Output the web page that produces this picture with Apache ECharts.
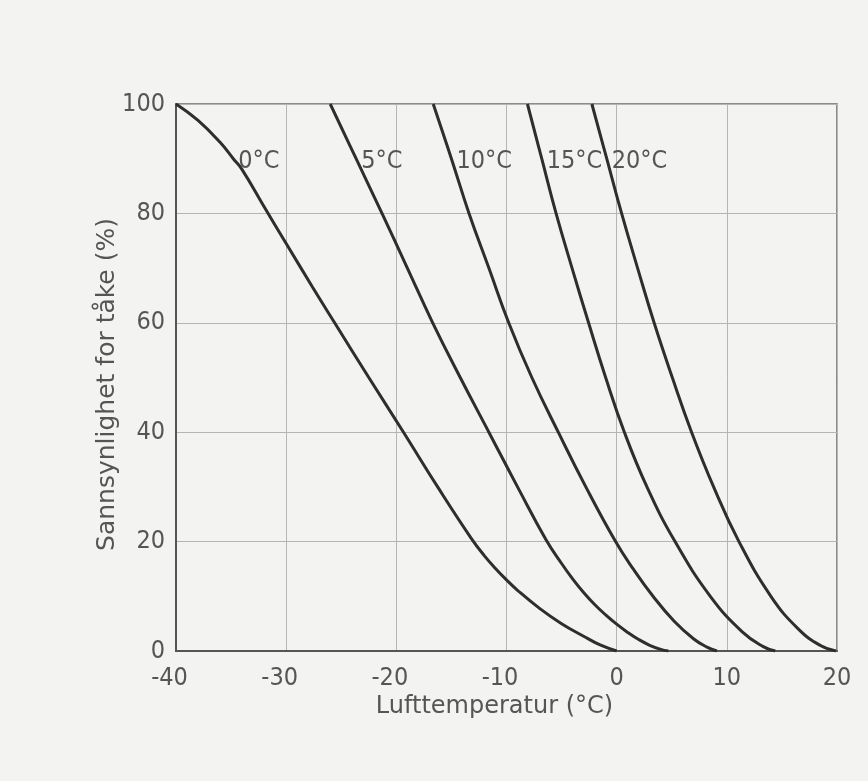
<!DOCTYPE html>
<html>
<head>
<meta charset="utf-8">
<script src="https://cdn.jsdelivr.net/npm/echarts@6/dist/echarts.min.js"></script>
<style>
html,body{margin:0;padding:0;background:#f3f3f1;}
#chart{width:868px;height:781px;}
</style>
</head>
<body>
<div id="chart"></div>
<script>
// Fog probability curves: [air temperature °C, probability %], one per water temperature
const seriesNames = ['0°C', '5°C', '10°C', '15°C', '20°C'];
const curve0 = [[-40,100],[-38,97],[-36,93],[-34.8,90],[-34,88],[-32,81.2],[-30,74.5],[-27.6,66.5],[-25.6,60],[-22.5,50],[-19.35,40],[-16.25,30],[-13.2,20.6],[-12,17.4],[-11,15.1],[-10,13],[-9,11.1],[-7,7.8],[-5,5],[-3,2.7],[-1.5,1.1],[0,0]];
const curve5 = [[-26,100],[-23.65,90],[-21.3,80],[-19,70],[-16.7,60],[-14.2,50],[-11.6,40],[-9,30],[-6.4,20.3],[-5,16],[-4,13.2],[-3,10.7],[-2,8.5],[-1,6.6],[0,4.9],[1,3.4],[2,2.1],[3,1.05],[4,0.3],[4.7,0]];
const curve10 = [[-16.65,100],[-15,90],[-13.4,80],[-11.6,70],[-9.8,60],[-7.7,50],[-5.3,40],[-2.8,30],[-0.1,20],[1.5,15],[3.3,10],[5.2,5.5],[7,2.2],[8.2,0.7],[9.1,0]];
const curve15 = [[-8.1,100],[-6.8,90],[-5.5,80],[-4.05,70],[-2.55,60],[-1,50],[0.7,40],[2.75,30],[5.3,20],[8.5,10],[11.4,3.5],[13.3,0.8],[14.4,0]];
const curve20 = [[-2.25,100],[-0.9,90],[0.45,80],[1.9,70],[3.4,60],[5.05,50],[6.8,40],[8.8,30],[11.1,20],[14,10],[16.5,4],[18.5,1],[19.9,0]];
const curves = [curve0, curve5, curve10, curve15, curve20];
const labelLevel = 90; // each curve is labelled where it crosses this value

const xTicks = {min: -40, max: 20, interval: 10};
const yTicks = {min: 0, max: 100, interval: 20};
const xTitle = 'Lufttemperatur (°C)';
const yTitle = 'Sannsynlighet for tåke (%)';

const FONT = "'DejaVu Sans', sans-serif";
const FONT_C = "'DejaVu Sans Condensed', 'DejaVu Sans', sans-serif";
const TXT = '#555555';

const chart = echarts.init(document.getElementById('chart'));
const series = curves.map((c, i) => ({
  name: seriesNames[i],
  type: 'line',
  smooth: 0.45,
  showSymbol: true,
  symbol: 'circle',
  symbolSize: 0.01,
  itemStyle: {color: 'rgba(0,0,0,0)'},
  lineStyle: {color: '#2e2e2e', width: 3},
  data: c.map(p => p[1] === labelLevel ? {
    value: p,
    label: {show: true, position: 'right', distance: 5, offset: [0, 3], formatter: seriesNames[i],
            fontFamily: FONT_C, fontSize: 25, color: TXT}
  } : p),
  emphasis: {disabled: true},
  silent: true
}));

chart.setOption({
  backgroundColor: '#f3f3f1',
  animation: false,
  grid: {left: 176, right: 31, top: 104, bottom: 130, show: true, borderColor: '#6a6a6a', borderWidth: 1.5},
  xAxis: {
    type: 'value', min: xTicks.min, max: xTicks.max, interval: xTicks.interval,
    name: xTitle, nameLocation: 'middle', nameGap: 44, nameMoveOverlap: false,
    nameTextStyle: {fontFamily: FONT, fontSize: 24, color: TXT, padding: [0, 24, 0, 0]},
    axisLine: {show: true, onZero: false, lineStyle: {color: '#555', width: 2}},
    axisTick: {show: false},
    axisLabel: {
      fontFamily: FONT_C, fontSize: 25, color: TXT, margin: 15,
      formatter: v => v < 0 ? '-' + Math.abs(v) + '{p|}' : String(v),
      rich: {p: {width: 13}}
    },
    splitLine: {show: true, lineStyle: {color: '#b5b5b5', width: 1}}
  },
  yAxis: {
    type: 'value', min: yTicks.min, max: yTicks.max, interval: yTicks.interval,
    name: yTitle, nameLocation: 'middle', nameGap: 56, nameMoveOverlap: false,
    nameTextStyle: {fontFamily: FONT, fontSize: 25, color: TXT, padding: [0, 14, 0, 0]},
    axisLine: {show: true, onZero: false, lineStyle: {color: '#555', width: 2}},
    axisTick: {show: false},
    axisLabel: {fontFamily: FONT_C, fontSize: 25, color: TXT, margin: 11},
    splitLine: {show: true, lineStyle: {color: '#b5b5b5', width: 1}}
  },
  series: series
});
</script>
</body>
</html>
